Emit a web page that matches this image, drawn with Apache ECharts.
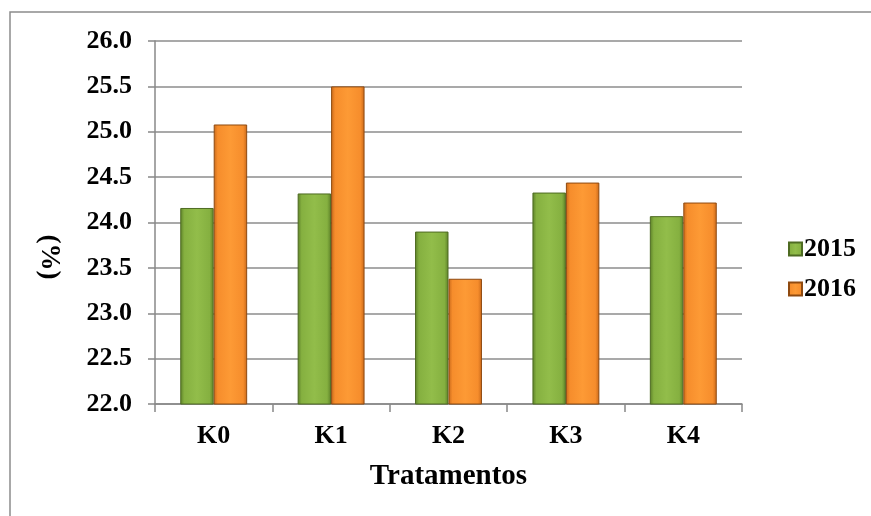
<!DOCTYPE html>
<html><head><meta charset="utf-8">
<script src="https://cdn.jsdelivr.net/npm/echarts@6/dist/echarts.min.js"></script>
<style>html,body{margin:0;padding:0;background:#fff}#c{width:871px;height:516px}</style>
</head><body><div id="c"></div>
<script>
const categories = ['K0','K1','K2','K3','K4'];
const s2015 = [24.16, 24.32, 23.90, 24.33, 24.07];
const s2016 = [25.08, 25.50, 23.38, 24.44, 24.22];
const yTicks = {min:22, max:26, interval:0.5};

const font = 'Liberation Serif, Times New Roman, serif';
function hgrad(dark, light, mid){
  return new echarts.graphic.LinearGradient(0,0,1,0,[
    {offset:0,color:dark},{offset:0.12,color:mid},{offset:0.5,color:light},{offset:0.88,color:mid},{offset:1,color:dark}
  ]);
}
const greenFill = hgrad('#5c8028','#92bd4a','#85b040');
const orangeFill = hgrad('#c8681a','#fd9a35','#f68d2c');
const chart = echarts.init(document.getElementById('c'), null, {renderer:'canvas'});
chart.setOption({
  animation:false,
  backgroundColor:'#fff',
  graphic:[
    {type:'rect', shape:{x:10,y:12,width:870,height:520}, style:{fill:'none', stroke:'#8c8c8c', lineWidth:1.5}, silent:true},
    {type:'text', x:49, y:257, rotation:-Math.PI/2, style:{text:'(%)', font:'bold 27px '+font, fill:'#000', align:'center', verticalAlign:'middle'}}
  ],
  grid:{left:155, right:129, top:41, bottom:112},
  legend:{
    orient:'vertical', left:783, top:231, itemGap:14, itemWidth:13, itemHeight:13,
    icon:'rect',
    textStyle:{fontFamily:font, fontWeight:'bold', fontSize:26, color:'#000', padding:[0,0,0,-3]},
    data:['2015','2016']
  },
  xAxis:{
    type:'category', data:categories,
    axisLine:{lineStyle:{color:'#888', width:1.5}},
    axisTick:{show:true, length:8, lineStyle:{color:'#888', width:1.5}},
    axisLabel:{fontFamily:font, fontWeight:'bold', fontSize:26, color:'#000', margin:19},
    name:'Tratamentos', nameLocation:'middle', nameGap:58,
    nameTextStyle:{fontFamily:font, fontWeight:'bold', fontSize:29, color:'#000'}
  },
  yAxis:{
    type:'value', min:yTicks.min, max:yTicks.max, interval:yTicks.interval,
    axisLine:{show:true, lineStyle:{color:'#888', width:1.5}},
    axisTick:{show:true, length:7, lineStyle:{color:'#888', width:1.5}},
    splitLine:{lineStyle:{color:'#8c8c8c', width:1.5}},
    axisLabel:{fontFamily:font, fontWeight:'bold', fontSize:26, color:'#000', margin:23,
      formatter:v=>v.toFixed(1)}
  },
  series:[
    {name:'2015', type:'bar', data:s2015, barGap:'0%', barCategoryGap:'43%',
      itemStyle:{color:greenFill, borderColor:'#4e6b22', borderWidth:1}},
    {name:'2016', type:'bar', data:s2016,
      itemStyle:{color:orangeFill, borderColor:'#8f4a10', borderWidth:1}}
  ]
});
</script></body></html>
